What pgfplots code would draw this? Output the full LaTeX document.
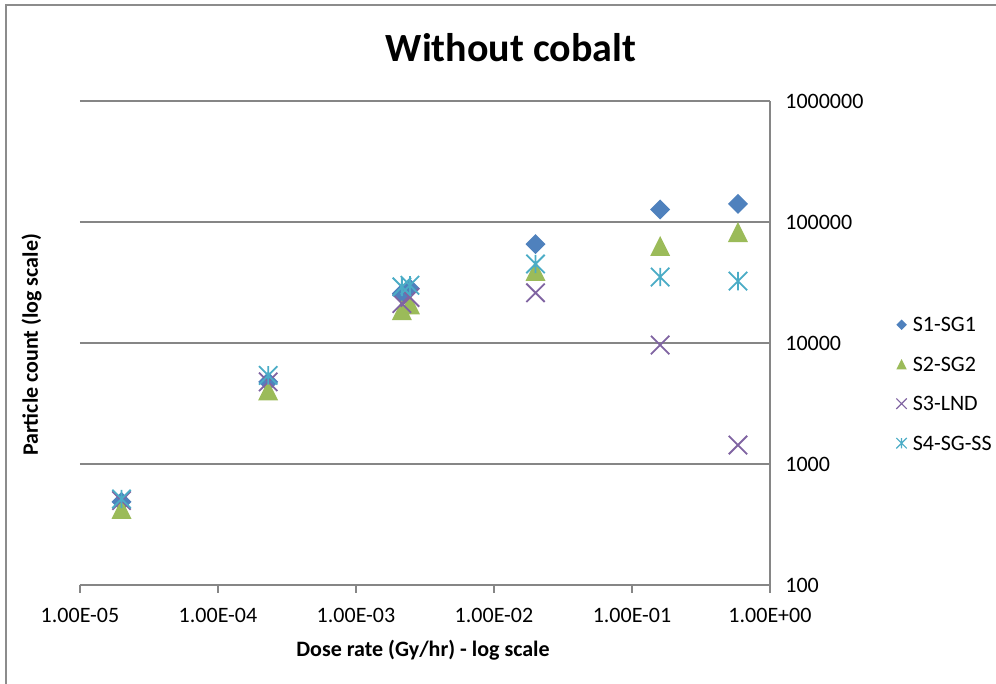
\documentclass[border=0pt]{standalone}
\usepackage{fontspec}
\setmainfont{Carlito}
\usepackage{pgfplots}
\pgfplotsset{compat=1.18}
\definecolor{s1}{HTML}{4F81BD}
\definecolor{s2}{HTML}{9BBB59}
\definecolor{s3}{HTML}{8064A2}
\definecolor{s4}{HTML}{4BACC6}
\definecolor{axgray}{HTML}{868686}
\definecolor{framegray}{HTML}{8C8C8C}
\pgfdeclareplotmark{xdiamond}{%
  \pgfpathmoveto{\pgfqpoint{0pt}{\pgfplotmarksize}}%
  \pgfpathlineto{\pgfqpoint{\pgfplotmarksize}{0pt}}%
  \pgfpathlineto{\pgfqpoint{0pt}{-\pgfplotmarksize}}%
  \pgfpathlineto{\pgfqpoint{-\pgfplotmarksize}{0pt}}%
  \pgfpathclose\pgfusepathqfill}
\pgfdeclareplotmark{xtri}{%
  \pgfpathmoveto{\pgfqpoint{0pt}{\pgfplotmarksize}}%
  \pgfpathlineto{\pgfqpoint{\pgfplotmarksize}{-\pgfplotmarksize}}%
  \pgfpathlineto{\pgfqpoint{-\pgfplotmarksize}{-\pgfplotmarksize}}%
  \pgfpathclose\pgfusepathqfill}
\pgfdeclareplotmark{xcross}{%
  \pgfpathmoveto{\pgfqpoint{-\pgfplotmarksize}{-\pgfplotmarksize}}%
  \pgfpathlineto{\pgfqpoint{\pgfplotmarksize}{\pgfplotmarksize}}%
  \pgfpathmoveto{\pgfqpoint{-\pgfplotmarksize}{\pgfplotmarksize}}%
  \pgfpathlineto{\pgfqpoint{\pgfplotmarksize}{-\pgfplotmarksize}}%
  \pgfusepathqstroke}
\pgfdeclareplotmark{xstar}{%
  \pgfpathmoveto{\pgfqpoint{-\pgfplotmarksize}{-\pgfplotmarksize}}%
  \pgfpathlineto{\pgfqpoint{\pgfplotmarksize}{\pgfplotmarksize}}%
  \pgfpathmoveto{\pgfqpoint{-\pgfplotmarksize}{\pgfplotmarksize}}%
  \pgfpathlineto{\pgfqpoint{\pgfplotmarksize}{-\pgfplotmarksize}}%
  \pgfpathmoveto{\pgfqpoint{0pt}{-\pgfplotmarksize}}%
  \pgfpathlineto{\pgfqpoint{0pt}{\pgfplotmarksize}}%
  \pgfusepathqstroke}
\begin{document}
\begin{tikzpicture}[x=0.5pt,y=0.5pt]
\useasboundingbox (0,0) rectangle (996,684);
\draw[framegray, line width=1pt] (6,-20) -- (6,679) -- (1020,679);
\begin{axis}[
  at={(40pt,49.5pt)}, anchor=south west,
  width=345pt, height=242pt, scale only axis,
  xmode=log, ymode=log,
  xmin=1e-5, xmax=1, ymin=100, ymax=1e6,
  axis x line*=bottom, axis y line*=right,
  axis line style={axgray, line width=0.75pt},
  xtick={1e-5,1e-4,1e-3,1e-2,1e-1,1},
  xticklabels={1.00E-05,1.00E-04,1.00E-03,1.00E-02,1.00E-01,1.00E+00},
  ytick={100,1000,10000,100000,1000000},
  yticklabels={100,1000,10000,100000,1000000},
  xminorticks=false, yminorticks=false,
  tick align=outside, major tick length=4pt,
  x tick style={axgray, line width=0.75pt},
  y tick style={draw=none},
  ymajorgrids, major grid style={axgray, line width=0.75pt},
  tick label style={font=\fontsize{11}{13}\selectfont, black},
  xticklabel style={anchor=north, inner sep=0pt, yshift=-7.5pt},
  yticklabel style={anchor=west, inner sep=0pt, xshift=3.5pt},
  clip=false,
  legend style={draw=none, fill=none, at={(1.1826,0.4153)}, anchor=west,
    font=\fontsize{11}{13}\selectfont, row sep=12.75pt, inner sep=0pt,
    nodes={inner sep=0pt, text height=7pt, text depth=0pt}},
  legend cell align=left,
  legend image code/.code={\draw[mark size=2.6pt, line width=0.6pt] plot coordinates {(0pt,0pt)};
    \path[draw=none, fill=none] (0pt,0pt) -- (5.6pt,0pt);},
]
\addplot[only marks, mark=xdiamond, mark size=5pt, s1] coordinates {
  (2.0e-5,486) (2.31e-4,4770) (2.15e-3,25600) (2.46e-3,28200)
  (2.0e-2,65700) (0.16,127000) (0.586,141000)};
\addlegendentry{S1-SG1}
\addplot[only marks, mark=xtri, mark size=5pt, s2] coordinates {
  (2.0e-5,426) (2.31e-4,4060) (2.15e-3,18700) (2.46e-3,20900)
  (2.0e-2,39500) (0.16,63400) (0.586,82600)};
\addlegendentry{S2-SG2}
\addplot[only marks, mark=xcross, mark size=4.6pt, line width=0.9pt, s3] coordinates {
  (2.0e-5,499) (2.31e-4,4770) (2.15e-3,21200) (2.46e-3,23800)
  (2.0e-2,26000) (0.16,9620) (0.586,1435)};
\addlegendentry{S3-LND}
\addplot[only marks, mark=xstar, mark size=4.6pt, line width=0.9pt, s4] coordinates {
  (2.0e-5,514) (2.31e-4,5400) (2.15e-3,29100) (2.46e-3,30000)
  (2.0e-2,45000) (0.16,35100) (0.586,32500)};
\addlegendentry{S4-SG-SS}
\end{axis}
\node[anchor=base, font=\fontsize{20}{24}\selectfont\bfseries] at (511,622) {Without cobalt};
\node[anchor=base, font=\fontsize{11}{13}\selectfont\bfseries] at (423,27) {Dose rate (Gy/hr) - log scale};
\node[anchor=base, rotate=90, font=\fontsize{11}{13}\selectfont\bfseries] at (38,339) {Particle count (log scale)};
\end{tikzpicture}
\end{document}
